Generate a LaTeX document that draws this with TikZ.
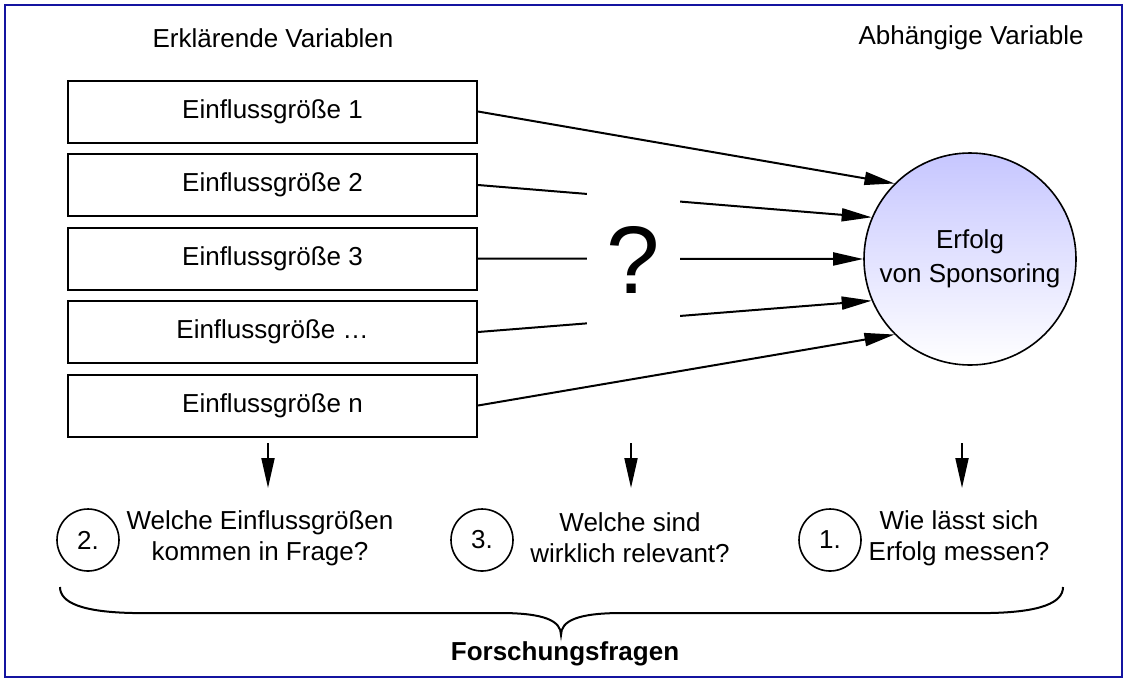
\documentclass[tikz,border=0pt]{standalone}
\usepackage{fontspec}
\setmainfont{Liberation Sans}
\usetikzlibrary{arrows.meta}
\definecolor{frBlue}{RGB}{20,20,160}
\definecolor{frLila}{RGB}{198,198,255}

\begin{document}
\begin{tikzpicture}[x=0.5pt,y=-0.5pt,
  font=\fontsize{13}{15}\selectfont,
  pfeil/.style={-{Triangle[length=15pt,width=6.5pt]}, line width=1pt},
  kasten/.style={draw, line width=1pt, minimum width=204.5pt, minimum height=31pt, inner sep=0pt},
  nummer/.style={draw, circle, line width=0.8pt, minimum size=31pt, inner sep=0pt},
  fragetext/.style={align=center, font=\fontsize{13}{15.5}\selectfont}]
  \useasboundingbox (0,0) rectangle (1128,681);
  \draw[frBlue, line width=1pt] (5,5) rectangle (1122,677);

  % Headings
  \node (erkl) at (273,38) {Erklärende Variablen};
  \node (abh) at (971,38) {Abhängige Variable};

  % Einflussgroessen
  \foreach \i/\y/\txt in {1/111.5/1, 2/185/2, 3/258.5/3, 4/332/…, 5/405.5/n}
    \node[kasten] (e\i) at (272.5,\y) {Einflussgröße \txt};

  % abhaengige Variable
  \node[circle, draw, line width=0.8pt, minimum size=106pt, top color=frLila, bottom color=white,
        align=center, font=\fontsize{13}{17}\selectfont] (erfolg) at (970,259) {Erfolg\\von Sponsoring};

  \foreach \i/\w in {1/135, 2/157, 3/180, 4/203, 5/225}
    \draw[pfeil] (e\i.east) -- (erfolg.\w);

  % question mark cuts the middle arrows
  \node[fill=white, minimum width=46.5pt, minimum height=90pt, inner sep=0pt,
        font=\fontsize{48}{50}\selectfont] (frage) at (633.5,260) {?};

  % Forschungsfragen
  \foreach \i/\x in {1/268, 2/631, 3/962} {
    \coordinate (a\i) at (\x,443);
    \coordinate (b\i) at (\x,488);
    \draw[pfeil] (a\i) -- (b\i);
  }
  \foreach \i/\x/\nr in {1/88/2, 2/482/3, 3/830/1}
    \node[nummer] (n\i) at (\x,540) {\nr.};
  \node[fragetext] (t1) at (260,538) {Welche Einflussgrößen\\kommen in Frage?};
  \node[fragetext] (t2) at (630,538) {Welche sind\\wirklich relevant?};
  \node[fragetext] (t3) at (959,538) {Wie lässt sich\\Erfolg messen?};

  \draw[line width=1pt] (60,587) .. controls (60,603) and (83,612) .. (133,613) -- (500,613)
    .. controls (545,613) and (561,621) .. (561,635)
    .. controls (561,621) and (577,613) .. (622,613) -- (990,613)
    .. controls (1040,612) and (1063,603) .. (1063,587);
  \node[font=\fontsize{13}{15}\bfseries] (forsch) at (565,654) {Forschungsfragen};
\end{tikzpicture}
\end{document}
